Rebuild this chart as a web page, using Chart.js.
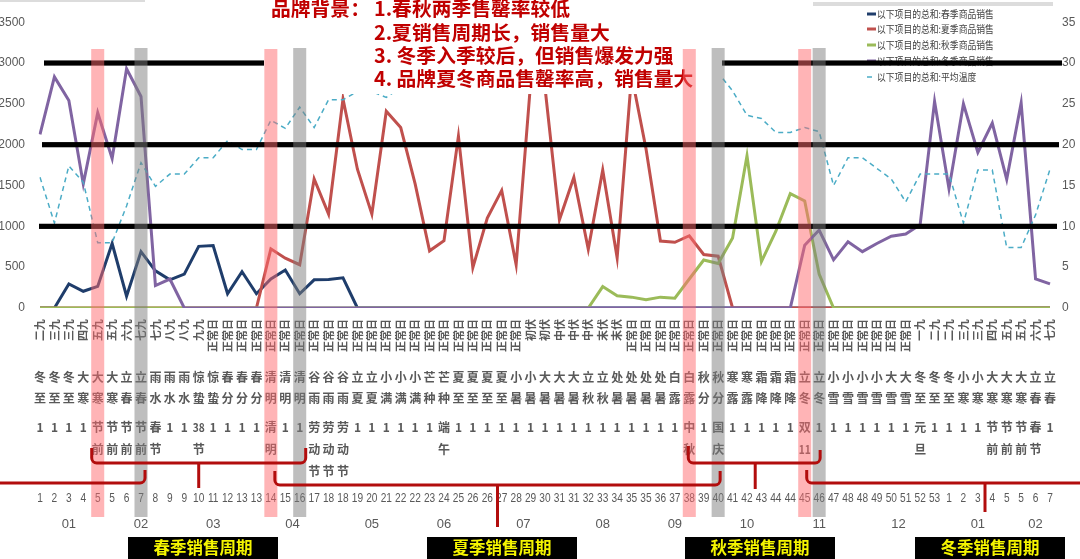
<!DOCTYPE html>
<html>
<head>
<meta charset="utf-8">
<script src="https://cdn.jsdelivr.net/npm/chart.js@4.4.1/dist/chart.umd.min.js"></script>
<style>
  html, body { margin: 0; padding: 0; background: #fff; }
</style>
</head>
<body>
<canvas id="chart" width="1080" height="559"></canvas>
<script>
// rows of the category axis
const periods = [
  "二九","三九","三九","四九","五九","五九","六九","七九","七九","八九","八九","九九",
  "正常日","正常日","正常日","正常日","正常日","正常日","正常日","正常日","正常日","正常日","正常日",
  "正常日","正常日","正常日","正常日","正常日","正常日","正常日","正常日","正常日","正常日","正常日",
  "初伏","初伏","中伏","中伏","中伏","末伏","末伏",
  "正常日","正常日","正常日","正常日","正常日","正常日","正常日","正常日","正常日","正常日",
  "正常日","正常日","正常日","正常日","正常日","正常日","正常日","正常日","正常日","正常日",
  "一九","二九","二九","三九","三九","四九","五九","五九","六九","七九"
];
const solarTerms = [
  "冬至","冬至","冬至","大寒","大寒","大寒","立春","立春","雨水","雨水","雨水","惊蛰","惊蛰",
  "春分","春分","春分","清明","清明","清明","谷雨","谷雨","谷雨","立夏","立夏","小满","小满","小满",
  "芒种","芒种","夏至","夏至","夏至","夏至","小暑","小暑","大暑","大暑","大暑","立秋","立秋",
  "处暑","处暑","处暑","处暑","白露","白露","秋分","秋分","寒露","寒露","霜降","霜降","霜降",
  "立冬","立冬","小雪","小雪","小雪","小雪","大雪","大雪","冬至","冬至","冬至","小寒","小寒",
  "大寒","大寒","大寒","立春","立春"
];
const holidays = [
  "1","1","1","1","节前","节前","节前","节前","春节","1","1","38节","1","1","1","1","清明","1","1",
  "劳动节","劳动节","劳动节","1","1","1","1","1","1","端午","1","1","1","1","1","1","1","1","1",
  "1","1","1","1","1","1","1","中秋","1","国庆","1","1","1","1","1","双11","1","1","1","1","1",
  "1","1","元旦","1","1","1","1","节前","节前","节前","春节","1"
];
const weeks = [
  1,2,3,4,5,5,6,7,8,9,9,10,11,12,13,13,14,15,16,17,18,18,19,20,21,22,22,23,24,25,26,26,
  27,28,29,30,31,31,32,33,34,35,35,36,37,38,39,40,41,42,43,44,44,45,46,47,48,48,49,50,51,52,53,
  1,2,3,4,5,5,6,7
];
const months = [
  "01","01","01","01","01","02","02","02","02","02","03","03","03","03","03",
  "04","04","04","04","04","04","05","05","05","05","05","06","06","06","06","06",
  "07","07","07","07","07","07","08","08","08","08","08","09","09","09","09","09",
  "10","10","10","10","10","11","11","11","11","11","12","12","12","12","12","12",
  "01","01","01","01","01","02","02","02"
];

// series
const springSales = [
  0,0,295,205,265,790,145,690,455,345,415,755,765,175,445,175,355,465,175,345,350,370,
  0,0,0,0,0,0,0,0,0,0,0,0,0,0,0,0,0,0,0,0,0,0,0,0,0,0,0,0,0,0,0,0,0,0,0,0,0,0,0,0,0,0,0,0,0,0,0,0,0
];
const summerSales = [
  0,0,0,0,0,0,0,0,0,0,0,0,0,0,0,0,725,610,530,1580,1150,2560,1700,1150,2410,2210,1520,700,825,
  2105,495,1100,1440,530,2750,2700,1080,1600,720,1690,615,2850,1950,820,805,885,655,635,
  0,0,0,0,0,0,0,0,0,0,0,0,0,0,0,0,0,0,0,0,0,0,0
];
const autumnSales = [
  0,0,0,0,0,0,0,0,0,0,0,0,0,0,0,0,0,0,0,0,0,0,0,0,0,0,0,0,0,0,0,0,0,0,0,0,0,0,0,
  262,150,133,100,133,120,355,588,545,858,1865,568,940,1400,1310,415,
  0,0,0,0,0,0,0,0,0,0,0,0,0,0,0,0
];
const winterSales = [
  2125,2830,2540,1520,2390,1830,2930,2590,275,355,
  0,0,0,0,0,0,0,0,0,0,0,0,0,0,0,0,0,0,0,0,0,0,0,0,0,0,0,0,0,0,0,0,0,0,0,0,0,0,0,0,0,0,0,
  770,955,590,810,690,790,880,905,1020,2530,1460,2500,1905,2265,1575,2510,355,295
];
const avgTemp = [
  16.0,10.4,17.4,15.4,8.0,8.0,12.5,17.8,14.9,16.4,16.4,18.4,18.4,20.5,19.4,19.4,23.0,22.0,24.6,
  22.1,25.5,25.5,26.5,26.5,25.8,27,28,28.5,29,29.5,30,30.5,31,31,31.5,31,30.5,30,30,29.5,29,
  28.5,28,28.5,28,27.5,28,28.8,26.6,23.6,23.2,21.5,21.5,22.1,21.6,15.0,18.4,18.4,17.1,15.8,13.0,
  16.4,16.4,16.4,10.4,16.9,16.9,7.4,7.4,11.4,17.0
];

const seriesNames = [
  "以下项目的总和:春季商品销售",
  "以下项目的总和:夏季商品销售",
  "以下项目的总和:秋季商品销售",
  "以下项目的总和:冬季商品销售",
  "以下项目的总和:平均温度"
];
const seriesColors = ["#1f3d6b", "#c0504d", "#9bbb59", "#8064a2", "#4bacc6"];

const guideValues = [3000, 2000, 1000];
const seasonStart = [4, 16, 45, 53];
const seasonEnd = [7, 18, 47, 54];
const seasonNames = ["春季销售周期", "夏季销售周期", "秋季销售周期", "冬季销售周期"];
const titleLines = [
  "1.春秋两季售罄率较低",
  "2.夏销售周期长，销售量大",
  "3. 冬季入季较后，但销售爆发力强",
  "4. 品牌夏冬商品售罄率高，销售量大"
];

const CJK = '"Noto Sans CJK SC", sans-serif';
const NUM = '"Liberation Sans", sans-serif';
const GREY = "#595959";

const pieces = s => s.match(/\d+|./g);

// narrow numbers: draw squeezed horizontally
const narrowText = (ctx, t, x, y, sx) => {
  ctx.save();
  ctx.translate(x, y);
  ctx.scale(sx, 1);
  ctx.fillText(t, 0, 0);
  ctx.restore();
};

const overlay = {
  id: "overlay",
  afterDraw(chart) {
    const { ctx, scales: { x, y } } = chart;
    const px = i => x.getPixelForValue(i);
    ctx.save();

    // legend
    ctx.textBaseline = "middle";
    ctx.textAlign = "left";
    ctx.font = "10px " + CJK;
    const legY = [14, 29, 45, 61, 77];
    seriesNames.forEach((n, k) => {
      ctx.strokeStyle = seriesColors[k];
      ctx.lineWidth = k === 4 ? 1.5 : 3;
      ctx.beginPath();
      ctx.moveTo(867, legY[k]);
      ctx.lineTo(k === 4 ? 872 : 876, legY[k]);
      ctx.stroke();
      ctx.fillStyle = "#404040";
      narrowText(ctx, n, 877, legY[k], 0.88);
    });
    ctx.fillStyle = "#dcdcdc";
    ctx.fillRect(813, 2, 240, 4);
    ctx.fillRect(0, 0, 145, 2);

    // thick guide lines
    ctx.fillStyle = "#000";
    const ends = [[44, 1062], [42, 1059], [39, 1057]];
    guideValues.forEach((v, k) => {
      ctx.fillRect(ends[k][0], y.getPixelForValue(v) - 2.6, ends[k][1] - ends[k][0], 5.2);
    });

    // title box
    ctx.fillStyle = "#fff";
    ctx.fillRect(264, 0, 458, 94);
    ctx.fillStyle = "#c00000";
    ctx.font = "bold 19.8px " + CJK;
    ctx.fillText("品牌背景：", 271, 8);
    const ty = [8, 32, 55, 78];
    titleLines.forEach((t, k) => ctx.fillText(t, 374, ty[k]));

    // category rows
    ctx.fillStyle = GREY;
    ctx.textAlign = "center";
    ctx.font = "bold 12px " + CJK;
    solarTerms.forEach((s, i) => {
      pieces(s).forEach((c, r) => ctx.fillText(c, px(i), 377 + r * 21.5));
    });
    holidays.forEach((s, i) => {
      pieces(s).forEach((c, r) => {
        if (/\d\d/.test(c)) narrowText(ctx, c, px(i), 427 + r * 22, 0.85);
        else ctx.fillText(c, px(i), 427 + r * 22);
      });
    });
    ctx.font = "13px " + NUM;
    weeks.forEach((w, i) => narrowText(ctx, String(w), px(i), 498, 0.78));
    let s0 = 0;
    for (let i = 1; i <= months.length; i++) {
      if (i === months.length || months[i] !== months[s0]) {
        ctx.fillText(months[s0], (px(s0) + px(i - 1)) / 2, 524);
        s0 = i;
      }
    }

    // season bands
    seasonStart.forEach(i => {
      ctx.fillStyle = "rgba(255,105,110,0.5)";
      ctx.fillRect(px(i) - 6.5, 49, 13, 468);
    });
    seasonEnd.forEach(i => {
      ctx.fillStyle = "rgba(125,125,125,0.5)";
      ctx.fillRect(px(i) - 6.5, 48, 13, 469);
    });

    // brackets
    ctx.strokeStyle = "#b20d0d";
    ctx.lineWidth = 3;
    ctx.lineJoin = "round";
    const bracket = (x1, x2, barY, tipY1, tipY2, stemX, stemY) => {
      ctx.beginPath();
      if (tipY1 != null) { ctx.moveTo(x1, tipY1); ctx.arcTo(x1, barY, x1 + 6, barY, 5); }
      else ctx.moveTo(x1, barY);
      if (tipY2 != null) { ctx.arcTo(x2, barY, x2, tipY2, 5); ctx.lineTo(x2, tipY2); }
      else ctx.lineTo(x2, barY);
      ctx.stroke();
      if (stemX != null) {
        ctx.beginPath();
        ctx.moveTo(stemX, barY);
        ctx.lineTo(stemX, stemY);
        ctx.stroke();
      }
    };
    bracket(0, px(7) + 4, 483, null, 470, null, null);
    bracket(px(4) - 6, px(18) + 6, 463, 448, 448, (px(4) + px(18)) / 2, 488);
    bracket(px(16) + 4, px(47) + 2, 485, 471, 471, (px(16) + px(47)) / 2 + 3, 527);
    bracket(px(45) - 1, px(54) + 1, 463, 446, 450, (px(45) + px(54)) / 2 + 1, 489);
    bracket(px(53) + 2, 1080, 483, 470, null, 985, 512);

    // season captions
    const capX = [203, 502, 760, 990];
    ctx.font = "bold 16.5px " + CJK;
    seasonNames.forEach((n, k) => {
      ctx.fillStyle = "#000";
      ctx.fillRect(capX[k] - 75, 537, 150, 22);
      ctx.fillStyle = "#f5f500";
      ctx.fillText(n, capX[k], 548);
    });

    ctx.restore();
  }
};

const line = (k, data, axis, order, extra) => Object.assign({
  label: seriesNames[k],
  data,
  yAxisID: axis,
  borderColor: seriesColors[k],
  backgroundColor: seriesColors[k],
  borderWidth: 3,
  pointRadius: 0,
  tension: 0,
  fill: false,
  order
}, extra || {});

new Chart(document.getElementById("chart"), {
  type: "line",
  data: {
    labels: periods,
    datasets: [
      line(0, springSales, "y", 4),
      line(1, summerSales, "y", 3),
      line(2, autumnSales, "y", 2),
      line(3, winterSales, "y", 1),
      line(4, avgTemp, "y1", 0, { borderWidth: 1.5, borderDash: [5, 4] })
    ]
  },
  options: {
    responsive: false,
    animation: false,
    devicePixelRatio: 1,
    layout: { padding: { top: 17, left: 0, right: 0, bottom: 0 } },
    plugins: { legend: { display: false }, tooltip: { enabled: false } },
    scales: {
      x: {
        offset: false,
        grid: { display: false, drawTicks: false },
        border: { display: false },
        ticks: {
          autoSkip: false, minRotation: 90, maxRotation: 90, padding: 11,
          color: GREY, font: { family: CJK, size: 11, weight: "bold" }
        },
        afterFit(s) { s.height = 251; }
      },
      y: {
        position: "left", min: 0, max: 3500,
        grid: { display: false, drawTicks: false },
        border: { display: false },
        ticks: {
          stepSize: 500, padding: 15, color: GREY, font: { family: NUM, size: 12 },
          callback: v => String(v)
        },
        afterFit(s) { s.width = 40; }
      },
      y1: {
        position: "right", min: 0, max: 35,
        grid: { display: false, drawTicks: false },
        border: { display: false },
        ticks: { stepSize: 5, padding: 12, color: GREY, font: { family: NUM, size: 12 } },
        afterFit(s) { s.width = 30; }
      }
    }
  },
  plugins: [overlay]
});
</script>
</body>
</html>
